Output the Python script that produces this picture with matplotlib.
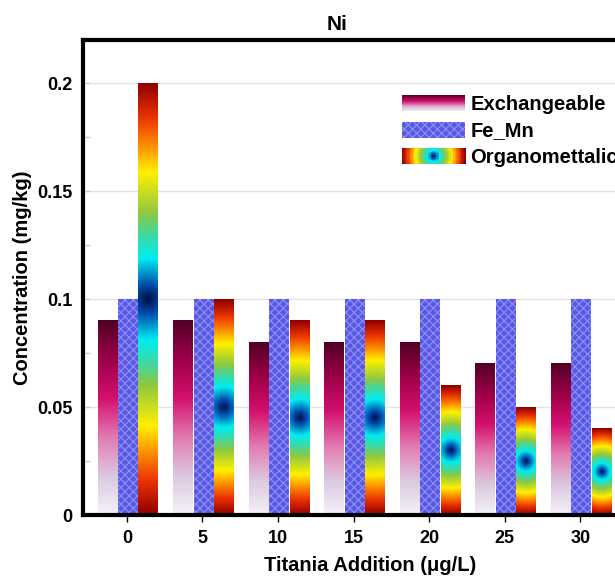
import numpy as np
import matplotlib.pyplot as plt
from matplotlib.colors import LinearSegmentedColormap
from matplotlib.patches import Rectangle
from matplotlib.legend_handler import HandlerBase

plt.rcParams['font.family'] = ['Liberation Sans', 'DejaVu Sans']
plt.rcParams['font.weight'] = 'bold'
plt.rcParams['hatch.linewidth'] = 0.8

# data
additions = [0, 5, 10, 15, 20, 25, 30]
exchangeable = [0.09, 0.09, 0.08, 0.08, 0.08, 0.07, 0.07]
fe_mn = [0.1, 0.1, 0.1, 0.1, 0.1, 0.1, 0.1]
organometallic = [0.2, 0.1, 0.09, 0.09, 0.06, 0.05, 0.04]
series_names = ["Exchangeable", "Fe_Mn", "Organomettalic"]
yticks = [0, 0.05, 0.1, 0.15, 0.2]
ytick_labels = ["0", "0.05", "0.1", "0.15", "0.2"]

exch_cmap = LinearSegmentedColormap.from_list(
    "exch", ["#f4f2f8", "#dcc8e0", "#e27ab0", "#d4106e", "#9c0048", "#520026"])
org_cmap = LinearSegmentedColormap.from_list(
    "org", [(0.0, "#00104a"), (0.07, "#0050b0"), (0.19, "#00eef0"),
            (0.30, "#40d8a0"), (0.40, "#90c840"), (0.59, "#fff000"),
            (0.71, "#ff9000"), (0.85, "#e83000"), (1.0, "#900000")])

fig = plt.figure(figsize=(6.15, 5.8), dpi=100)
ax = fig.add_axes([83 / 615, 65 / 580, 603 / 615, 475 / 580])

x = np.array(additions, dtype=float)
w = 1.32
b_exch = ax.bar(x - 1.27, exchangeable, w, color='none', linewidth=0, zorder=2)
b_fe = ax.bar(x + 0.08, fe_mn, w, color='#5858e6', edgecolor='#9292f6',
              hatch='xxxx', linewidth=0, zorder=2, label=series_names[1])
b_org = ax.bar(x + 1.43, organometallic, w, color='none', linewidth=0, zorder=2)

ax.set_xlim(-2.9, 37)
ax.set_ylim(0, 0.22)

# pixel scale, used for the round colour blobs
p0 = ax.transData.transform((0, 0))
p1 = ax.transData.transform((1, 1))
sx, sy = p1 - p0

grad = np.linspace(0, 1, 256).reshape(-1, 1)
for bar in b_exch:
    x0, y0, bw, bh = bar.get_x(), bar.get_y(), bar.get_width(), bar.get_height()
    ax.imshow(grad, extent=[x0, x0 + bw, y0, y0 + bh], origin='lower',
              aspect='auto', cmap=exch_cmap, zorder=2, interpolation='bilinear')

for bar in b_org:
    x0, y0, bw, bh = bar.get_x(), bar.get_y(), bar.get_width(), bar.get_height()
    X, Y = np.meshgrid(np.linspace(-bw / 2, bw / 2, 40) * sx,
                       np.linspace(-bh / 2, bh / 2, 400) * sy)
    d = np.clip(np.hypot(X, Y) / (bh / 2 * sy), 0, 1)
    ax.imshow(d, extent=[x0, x0 + bw, y0, y0 + bh], origin='lower',
              aspect='auto', cmap=org_cmap, vmin=0, vmax=1, zorder=2,
              interpolation='bilinear')

ax.set_xlim(-2.9, 37)
ax.set_ylim(0, 0.22)


class GradientHandler(HandlerBase):
    def __init__(self, kind):
        super().__init__()
        self.kind = kind

    def create_artists(self, legend, orig_handle, xdescent, ydescent,
                       width, height, fontsize, trans):
        arts = []
        if self.kind == 'exch':
            n = 20
            for i in range(n):
                arts.append(Rectangle((-xdescent, -ydescent + height * i / n),
                                      width, height / n + 0.3,
                                      facecolor=exch_cmap((i + 0.5) / n),
                                      linewidth=0, transform=trans))
        else:
            nx, ny = 48, 12
            for i in range(nx):
                for j in range(ny):
                    cx = (i + 0.5) / nx * width - width / 2
                    cy = (j + 0.5) / ny * height - height / 2
                    d = min(np.hypot(cx, cy) / (width / 2), 1)
                    arts.append(Rectangle((-xdescent + width * i / nx,
                                           -ydescent + height * j / ny),
                                          width / nx + 0.3, height / ny + 0.3,
                                          facecolor=org_cmap(d),
                                          linewidth=0, transform=trans))
        return arts


exch_proxy = Rectangle((0, 0), 1, 1)
org_proxy = Rectangle((0, 0), 1, 1)
ax.legend([exch_proxy, b_fe, org_proxy], series_names,
          handler_map={exch_proxy: GradientHandler('exch'),
                       org_proxy: GradientHandler('org')},
          loc='upper left', bbox_to_anchor=(394 / 615, 1 - 87 / 580),
          bbox_transform=fig.transFigure, frameon=False, borderaxespad=0,
          prop={'weight': 'bold', 'size': 14.5},
          handlelength=3.13, handleheight=0.85, labelspacing=0.37,
          handletextpad=0.25)

ax.set_yticks(yticks)
ax.set_yticklabels(ytick_labels)
ax.set_yticks(np.arange(0.025, 0.22, 0.05), minor=True)
ax.set_xticks(additions)
ax.set_xticklabels([str(a) for a in additions])
ax.tick_params(axis='y', which='both', direction='in', length=5, width=1,
               color='#cccccc', labelsize=13, pad=7.5)
ax.tick_params(axis='x', direction='out', length=5, width=1,
               labelsize=13, pad=6)
ax.yaxis.grid(True, color='#e4e4e4', linewidth=1)
ax.set_axisbelow(True)
for s in ax.spines.values():
    s.set_linewidth(3)

ax.set_xlabel("Titania Addition (μg/L)", fontsize=14.5, fontweight='bold')
ax.xaxis.set_label_coords((370 - 83) / 603, -0.087)
ax.set_ylabel("Concentration (mg/kg)", fontsize=14.5, fontweight='bold')
ax.yaxis.set_label_coords(-0.085, 0.5)
fig.text(337 / 615, 1 - 25 / 580, "Ni", ha='center', va='center',
         fontsize=15, fontweight='bold')

fig.savefig("out.png", dpi=100)
